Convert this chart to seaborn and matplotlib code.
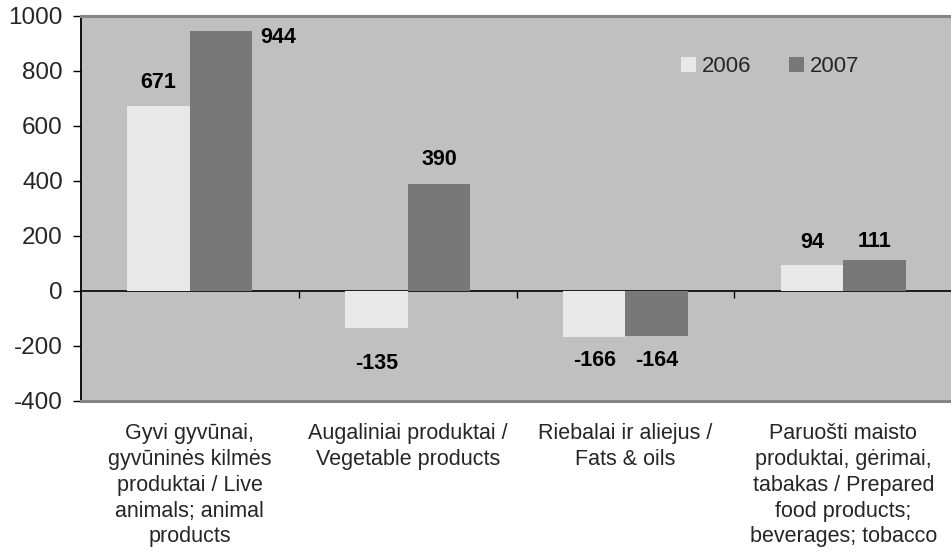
import matplotlib
matplotlib.use("Agg")
import matplotlib.pyplot as plt
import pandas as pd
import seaborn as sns

# values
categories = [
    "Gyvi gyvūnai,\ngyvūninės kilmės\nproduktai / Live\nanimals; animal\nproducts",
    "Augaliniai produktai /\nVegetable products",
    "Riebalai ir aliejus /\nFats & oils",
    "Paruošti maisto\nproduktai, gėrimai,\ntabakas / Prepared\nfood products;\nbeverages; tobacco",
]
years = ["2006", "2007"]
values_2006 = [671, -135, -166, 94]
values_2007 = [944, 390, -164, 111]
y_ticks = [-400, -200, 0, 200, 400, 600, 800, 1000]

# label nudges (pixels) so the numbers sit where they do in the original
label_nudge = {
    "2006": [(0, 24), (0, -35), (0, -24), (0, 23)],
    "2007": [(57, -6), (0, 24), (0, -24), (0, 19)],
}

df = pd.DataFrame({
    "category": categories * 2,
    "year": [years[0]] * 4 + [years[1]] * 4,
    "value": values_2006 + values_2007,
})

sns.set_style("white")
plt.rcParams["font.family"] = ["Liberation Sans", "DejaVu Sans"]
plt.rcParams["axes.unicode_minus"] = False

fig = plt.figure(figsize=(9.51, 5.53), dpi=100)
ax = fig.add_axes([0.0852, 0.2749, 0.9160, 0.6963])
ax.set_facecolor("#c0c0c0")

palette = {"2006": "#e8e8e8", "2007": "#787878"}
sns.barplot(data=df, x="category", y="value", hue="year", palette=palette,
            width=0.574, gap=0, saturation=1, linewidth=0, ax=ax)

ax.set_xlim(-0.5, 3.5)
ax.set_ylim(-400, 1000)
ax.set_yticks(y_ticks)
ax.tick_params(axis="y", labelsize=17.5, length=6, width=1, direction="out",
               color="black", pad=7, left=True)
ax.set_xticks(range(len(categories)))
ax.set_xticklabels(categories, fontsize=15.5, linespacing=1.3, va="top")
ax.tick_params(axis="x", length=0, pad=16)
ax.set_xlabel("")
ax.set_ylabel("")

# frame: grey plot-area border on top/bottom, black value axis
for side in ["top", "bottom"]:
    ax.spines[side].set_color("#858585")
    ax.spines[side].set_linewidth(2.2)
ax.spines["right"].set_visible(False)
ax.spines["left"].set_color("black")
ax.spines["left"].set_linewidth(1.3)

# zero line with category separator ticks
zero_frac = (0 - y_ticks[0]) / (y_ticks[-1] - y_ticks[0])
zero_axis = ax.secondary_xaxis(zero_frac)
zero_axis.set_xticks([0.5, 1.5, 2.5])
zero_axis.set_xticklabels([])
zero_axis.tick_params(length=5, width=1, direction="out", color="black")
zero_axis.spines["bottom"].set_color("black")
zero_axis.spines["bottom"].set_linewidth(1.2)

# data labels
for container, year in zip(ax.containers, years):
    for bar, (dx, dy) in zip(container, label_nudge[year]):
        val = bar.get_height() if bar.get_y() >= 0 else bar.get_y()
        x = bar.get_x() + bar.get_width() / 2
        ax.annotate(f"{int(round(val))}", xy=(x, val), xytext=(dx, dy),
                    textcoords="offset pixels", ha="center", va="center",
                    fontsize=15.5, fontweight="bold", color="black")

leg = ax.legend(loc="center", bbox_to_anchor=(0.791, 0.868), ncol=2,
                frameon=False, fontsize=15.9, handlelength=0.7, handleheight=0.7,
                handletextpad=0.25, columnspacing=1.7)

fig.savefig("out.png", dpi=100, facecolor="white")
